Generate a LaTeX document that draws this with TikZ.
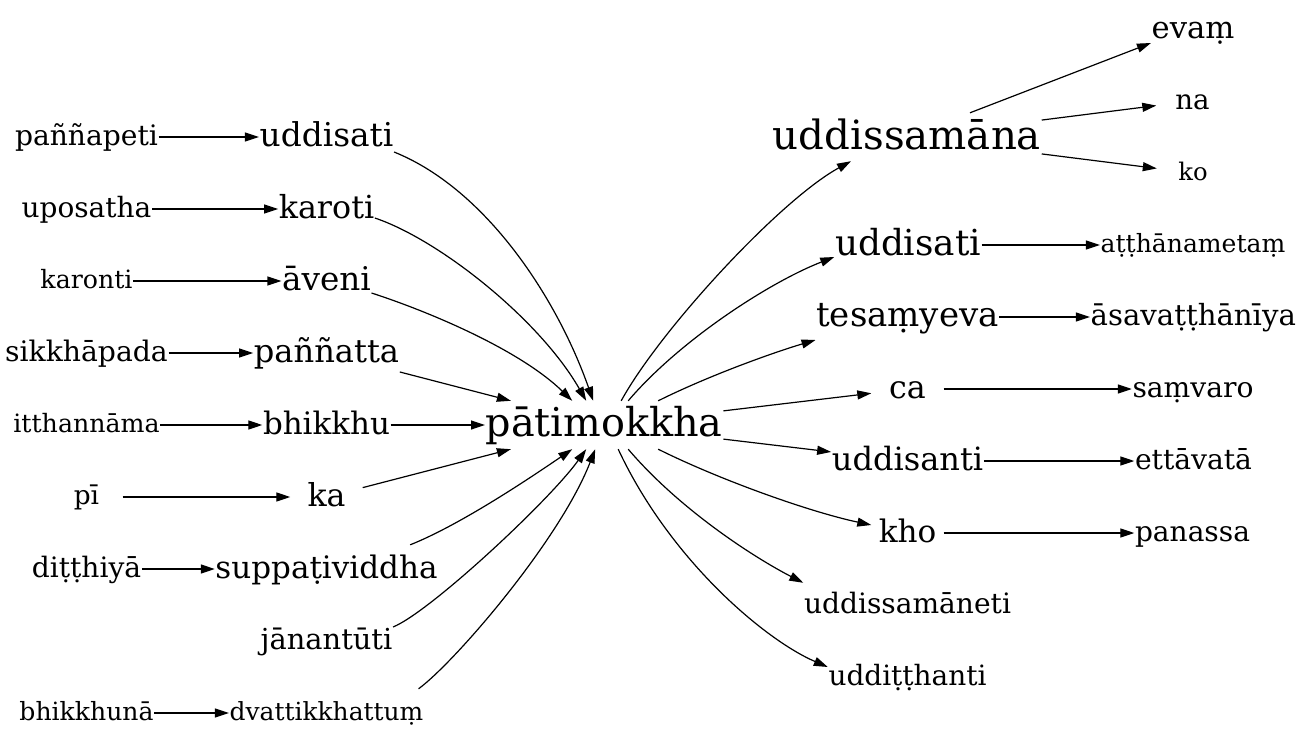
\documentclass[tikz,border=0pt]{standalone}
\usepackage{fontspec}
\setmainfont{DejaVu Serif}
\usepackage{graphicx}
\usetikzlibrary{arrows.meta}
\newcommand{\plbl}[2]{\resizebox{#1pt}{!}{\fontsize{20pt}{20pt}\selectfont\rule[-4pt]{0pt}{20pt}#2}}
\begin{document}
\begin{tikzpicture}[x=1pt,y=-1pt,
  lab/.style={rectangle, draw=none, inner xsep=0.5pt, inner ysep=0pt, minimum width=72pt, minimum height=48pt},
  edge/.style={-{Triangle[length=14pt,width=9pt]}, line width=1.2pt, black}]
\useasboundingbox (0,0) rectangle (1301,743);
% left leaves
\node[lab] (p1) at (86.5,137) {\plbl{143}{paññapeti}};
\node[lab] (p2) at (86.5,209) {\plbl{129.7}{uposatha}};
\node[lab] (p3) at (86.5,281) {\plbl{92}{karonti}};
\node[lab] (p4) at (86.5,353) {\plbl{162.7}{sikkhāpada}};
\node[lab] (p5) at (86.5,425) {\plbl{146.3}{itthannāma}};
\node[lab] (p6) at (86.5,497) {\plbl{25.3}{pī}};
\node[lab] (p7) at (86.5,569) {\plbl{109.3}{diṭṭhiyā}};
\node[lab] (p8) at (86.5,713) {\plbl{134}{bhikkhunā}};
% left level 1
\node[lab] (l1) at (326.5,137) {\plbl{133.7}{uddisati}};
\node[lab] (l2) at (326.5,209) {\plbl{95.3}{karoti}};
\node[lab] (l3) at (326.5,281) {\plbl{88.7}{āveni}};
\node[lab] (l4) at (326.5,353) {\plbl{145.3}{paññatta}};
\node[lab] (l5) at (326.5,425) {\plbl{127}{bhikkhu}};
\node[lab] (l6) at (326.5,497) {\plbl{38}{ka}};
\node[lab] (l7) at (326.5,569) {\plbl{222}{suppaṭividdha}};
\node[lab] (l8) at (326.5,641) {\plbl{131.7}{jānantūti}};
\node[lab] (l9) at (326.5,713) {\plbl{193.7}{dvattikkhattuṃ}};
% centre
\node[lab] (pat) at (604.2,425) {\plbl{237}{pātimokkha}};
% right level 1
\node[lab] (r1) at (907,137) {\plbl{268}{uddissamāna}};
\node[lab] (r2) at (908,245) {\plbl{146}{uddisati}};
\node[lab] (r3) at (907.5,317) {\plbl{182.5}{tesaṃyeva}};
\node[lab] (r4) at (907.5,389) {\plbl{36.7}{ca}};
\node[lab] (r5) at (907.5,461) {\plbl{151.3}{uddisanti}};
\node[lab] (r6) at (907.5,533) {\plbl{57.5}{kho}};
\node[lab] (r7) at (907.5,605) {\plbl{207}{uddissamāneti}};
\node[lab] (r8) at (907.5,677) {\plbl{158}{uddiṭṭhanti}};
% right leaves
\node[lab] (s1) at (1193,29) {\plbl{82.7}{evaṃ}};
\node[lab] (s2) at (1192.5,101) {\plbl{34.3}{na}};
\node[lab] (s3) at (1193,173) {\plbl{29.3}{ko}};
\node[lab] (s4) at (1193,245) {\plbl{184.7}{aṭṭhānametaṃ}};
\node[lab] (s5) at (1193.3,317) {\plbl{205.3}{āsavaṭṭhānīya}};
\node[lab] (s6) at (1193,389) {\plbl{121}{saṃvaro}};
\node[lab] (s7) at (1193.5,461) {\plbl{117}{ettāvatā}};
\node[lab] (s8) at (1192.5,533) {\plbl{115}{panassa}};
% left leaf edges
\draw[edge] (p1) -- (l1);
\draw[edge] (p2) -- (l2);
\draw[edge] (p3) -- (l3);
\draw[edge] (p4) -- (l4);
\draw[edge] (p5) -- (l5);
\draw[edge] (p6) -- (l6);
\draw[edge] (p7) -- (l7);
\draw[edge] (p8) -- (l9);
% left level 1 to centre
\draw[edge] ([yshift=-15pt]l1.east) .. controls (486,189) and (557,298) .. ([xshift=-11pt]pat.north);
\draw[edge] ([yshift=-9pt]l2.east) .. controls (440,240) and (540,320) .. ([xshift=-18pt]pat.north);
\draw[edge] ([yshift=-12pt]l3.east) .. controls (430,312) and (520,350) .. ([xshift=-32pt]pat.north);
\draw[edge] (l4) -- (pat);
\draw[edge] (l5) -- (pat);
\draw[edge] (l6) -- (pat);
\draw[edge] ([xshift=-28pt]l7.north east) .. controls (460,525) and (530,478) .. ([xshift=-32pt]pat.south);
\draw[edge] ([yshift=14pt]l8.east) .. controls (430,612) and (550,500) .. ([xshift=-18pt]pat.south);
\draw[edge] ([xshift=-5.5pt]l9.north east) .. controls (455,662) and (560,540) .. ([xshift=-9pt]pat.south);
% centre to right level 1
\draw[edge] ([xshift=17pt]pat.north) .. controls (660,330) and (780,200) .. ([xshift=-56pt]r1.south);
\draw[edge] ([xshift=24pt]pat.north) .. controls (680,340) and (770,282) .. ([yshift=-12pt]r2.west);
\draw[edge] ([xshift=54pt]pat.north) .. controls (710,375) and (775,352) .. ([yshift=-23pt]r3.west);
\draw[edge] (pat) -- (r4);
\draw[edge] (pat) -- (r5);
\draw[edge] ([xshift=54pt]pat.south) .. controls (720,480) and (810,512) .. ([yshift=8pt]r6.west);
\draw[edge] ([xshift=24pt]pat.south) .. controls (680,510) and (755,558) .. ([yshift=-2pt]r7.north west);
\draw[edge] ([xshift=14pt]pat.south) .. controls (670,560) and (765,640) .. ([yshift=10pt]r8.west);
% right level 1 to leaves
\draw[edge] ([xshift=63pt]r1.north) -- ([yshift=-14pt]s1.west);
\draw[edge] (r1) -- (s2);
\draw[edge] (r1) -- (s3);
\draw[edge] (r2) -- (s4);
\draw[edge] (r3) -- (s5);
\draw[edge] (r4) -- (s6);
\draw[edge] (r5) -- (s7);
\draw[edge] (r6) -- (s8);
\end{tikzpicture}
\end{document}
